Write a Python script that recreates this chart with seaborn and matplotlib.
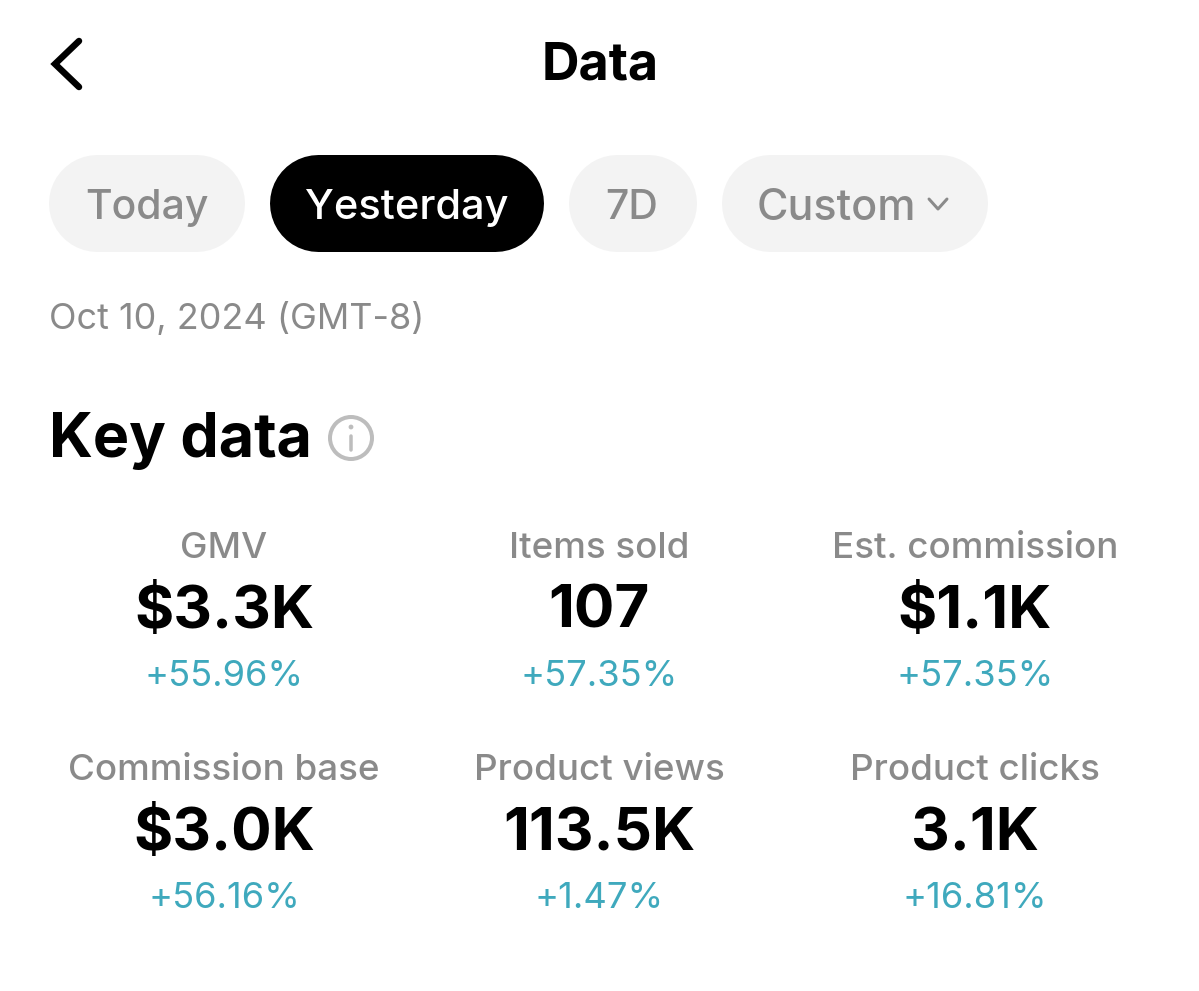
import matplotlib
matplotlib.use("Agg")
import matplotlib.pyplot as plt
import seaborn as sns
from matplotlib.patches import Circle

sns.set_theme(style="white")
plt.rcParams['font.family'] = ['Inter', 'DejaVu Sans']

W, H = 1199, 991
labels = ["GMV", "Items sold", "Est. commission", "Commission base", "Product views", "Product clicks"]
values = ["$3.3K", "107", "$1.1K", "$3.0K", "113.5K", "3.1K"]
changes = ["+55.96%", "+57.35%", "+57.35%", "+56.16%", "+1.47%", "+16.81%"]
tabs = ["Today", "Yesterday", "7D", "Custom"]
title = "Data"
date_text = "Oct 10, 2024 (GMT-8)"
section = "Key data"

fig = plt.figure(figsize=(W / 100, H / 100), dpi=100, facecolor="white")
ax = fig.add_axes([0, 0, 1, 1])
ax.set_xlim(0, W)
ax.set_ylim(H, 0)
ax.axis("off")

fs = 72 / 100  # px to pt
GREY = "#8a8a8a"
TEAL = "#3fa9bd"

# back chevron
ax.plot([79, 55, 79], [41, 64, 87], color="black", lw=6.5 * fs, solid_capstyle="round", solid_joinstyle="miter")
ax.text(600, 66, title, ha="center", va="center", fontsize=52 * fs, fontweight="bold", color="black")

# tabs: a thick round-capped line gives a true pill shape
tab_x = [(48, 244), (269, 543), (568, 696), (721, 987)]
tab_text_x = [147, 407, 632, 836]
tab_sizes = [41, 41.5, 41, 43]
pill_h = 97
for i, (t, (x0, x1)) in enumerate(zip(tabs, tab_x)):
    active = i == 1
    ax.plot([x0 + pill_h / 2, x1 - pill_h / 2], [202.5, 202.5], lw=pill_h * fs,
            color="black" if active else "#f3f3f3", solid_capstyle="round", zorder=1)
    ax.text(tab_text_x[i], 208, t, ha="center", va="center", fontsize=tab_sizes[i] * fs,
            fontweight="medium", color="white" if active else GREY, zorder=2)
ax.plot([929, 938, 947], [199, 209, 199], color=GREY, lw=3 * fs, solid_capstyle="round")

ax.text(49, 319, date_text, ha="left", va="center", fontsize=36 * fs, color=GREY)
ax.text(49, 441, section, ha="left", va="center", fontsize=61 * fs, fontweight="bold", color="black")

# info icon
ax.add_patch(Circle((351, 438), 21, fc="none", ec="#bdbdbd", lw=4 * fs))
ax.plot([351, 351], [436, 450], color="#bdbdbd", lw=3.5 * fs)
ax.add_patch(Circle((351, 427), 2.4, fc="#bdbdbd", ec="none"))

# metric grid
col_x = [224, 599, 975]
row_y = [(548, 612, 677), (771, 835, 899)]
for i, (lab, val, ch) in enumerate(zip(labels, values, changes)):
    x = col_x[i % 3]
    y0, y1, y2 = row_y[i // 3]
    ax.text(x, y0, lab, ha="center", va="center", fontsize=36.8 * fs, fontweight="medium", color=GREY)
    ax.text(x, y1, val, ha="center", va="center", fontsize=60 * fs, fontweight="bold", color="black")
    ax.text(x, y2, ch, ha="center", va="center", fontsize=36.3 * fs, color=TEAL)

fig.savefig("out.png", dpi=100, facecolor="white")
